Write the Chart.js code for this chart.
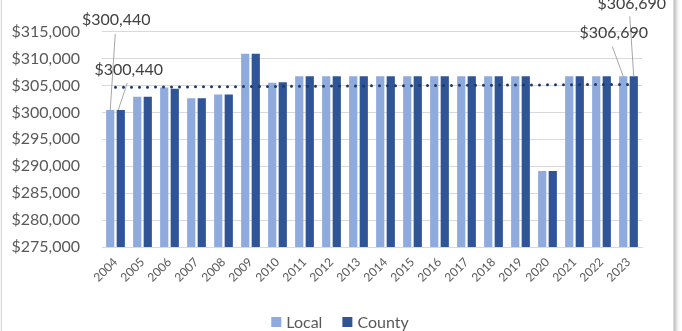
<!DOCTYPE html>
<html>
<head>
<meta charset="utf-8">
<script src="https://cdn.jsdelivr.net/npm/chart.js@4"></script>
<style>
  html, body { margin: 0; padding: 0; background: #fff; overflow: hidden; }
  #wrap { position: relative; width: 682px; height: 331px; }
  #frame { position: absolute; left: 1px; top: -5px; width: 671px; height: 345px;
           border: 1px solid #d9d9d9; box-shadow: 2px 0 4px rgba(0,0,0,0.3); pointer-events: none; }
  canvas { position: absolute; left: 0; top: 0; }
</style>
</head>
<body>
<div id="wrap">
  <div id="frame"></div>
  <canvas id="chart" width="682" height="331"></canvas>
</div>
<script>
// Valores
const years = ['2004','2005','2006','2007','2008','2009','2010','2011','2012','2013',
               '2014','2015','2016','2017','2018','2019','2020','2021','2022','2023'];
const localValues = [300440, 302900, 304600, 302600, 303300, 310900, 305500, 306690, 306690, 306690,
                     306690, 306690, 306690, 306690, 306690, 306690, 289100, 306690, 306690, 306690];
const countyValues = [300440, 302900, 304400, 302600, 303300, 310900, 305600, 306690, 306690, 306690,
                      306690, 306690, 306690, 306690, 306690, 306690, 289100, 306690, 306690, 306690];
// línea de tendencia (extremos leídos)
const trendValues = [304650, null, null, null, null, null, null, null, null, null,
                     null, null, null, null, null, null, null, null, null, 305200];

const fmt = v => '$' + v.toLocaleString('en-US');
const FONT = 'Lato';

// etiquetas con líneas guía para 2004 y 2023
const callouts = [
  { ds: 0, idx: 0,  tx: 6,    ty: -90, lx: 5,   ly: -76, ex: 0,    ey: 0 },
  { ds: 1, idx: 0,  tx: 8,    ty: -40, lx: 6.5, ly: -27, ex: -2.5, ey: 0 },
  { ds: 1, idx: 19, tx: -2,   ty: -73, lx: -4,  ly: -60, ex: 0,    ey: 0 },
  { ds: 0, idx: 19, tx: -9.5, ty: -44, lx: -11, ly: -30, ex: 0,    ey: 0 }
];

const calloutPlugin = {
  id: 'callouts',
  afterDatasetsDraw(chart) {
    const ctx = chart.ctx;
    ctx.save();
    callouts.forEach(c => {
      const el = chart.getDatasetMeta(c.ds).data[c.idx];
      const val = chart.data.datasets[c.ds].data[c.idx];
      ctx.strokeStyle = '#a6a6a6';
      ctx.lineWidth = 1;
      ctx.beginPath();
      ctx.moveTo(el.x + c.lx, el.y + c.ly);
      ctx.lineTo(el.x + c.ex, el.y + c.ey);
      ctx.stroke();
      ctx.fillStyle = '#404040';
      ctx.font = '16px ' + FONT;
      ctx.textAlign = 'center';
      ctx.textBaseline = 'middle';
      ctx.fillText(fmt(val), el.x + c.tx, el.y + c.ty);
    });
    ctx.restore();
  }
};

// leyenda dibujada a mano (solo las barras)
const legendPlugin = {
  id: 'bottomLegend',
  afterDraw(chart) {
    const ctx = chart.ctx;
    const items = chart.data.datasets.filter(d => d.type === 'bar');
    const box = 10, gapText = 5, gapItem = 20, cy = 322;
    ctx.save();
    ctx.font = '16px ' + FONT;
    const widths = items.map(d => box + gapText + ctx.measureText(d.label).width);
    const total = widths.reduce((a, b) => a + b, 0) + gapItem * (items.length - 1);
    let x = 340 - total / 2;
    items.forEach((d, i) => {
      ctx.fillStyle = d.backgroundColor;
      ctx.fillRect(x, cy - box / 2, box, box);
      ctx.fillStyle = '#595959';
      ctx.textAlign = 'left';
      ctx.textBaseline = 'middle';
      ctx.fillText(d.label, x + box + gapText, cy + 1);
      x += widths[i] + gapItem;
    });
    ctx.restore();
  }
};

new Chart(document.getElementById('chart'), {
  data: {
    labels: years,
    datasets: [
      { type: 'bar', label: 'Local', data: localValues, backgroundColor: '#8faadc',
        order: 1, categoryPercentage: 0.78, barPercentage: 0.78 },
      { type: 'bar', label: 'County', data: countyValues, backgroundColor: '#2f5597',
        order: 1, categoryPercentage: 0.78, barPercentage: 0.78 },
      { type: 'line', label: 'trend', data: trendValues, spanGaps: true, order: 0,
        borderColor: '#203864', borderWidth: 3, borderDash: [0, 8], borderCapStyle: 'round',
        pointRadius: 0, fill: false }
    ]
  },
  options: {
    responsive: false,
    devicePixelRatio: 1,
    animation: false,
    layout: { padding: { left: 0, right: 40, top: 29, bottom: 0 } },
    scales: {
      x: {
        grid: { display: false, drawTicks: false },
        border: { color: '#d9d9d9', width: 1 },
        ticks: { color: '#595959', font: { family: FONT, size: 12 }, minRotation: 45, maxRotation: 45, padding: 8 },
        afterFit(scale) { scale.height = 84; }
      },
      y: {
        min: 275000, max: 315000,
        grid: { color: '#d9d9d9', drawTicks: false },
        border: { display: false },
        ticks: { stepSize: 5000, color: '#595959', font: { family: FONT, size: 16 }, padding: 22,
                 callback: v => fmt(v) },
        afterFit(scale) { scale.width = 102; }
      }
    },
    plugins: {
      legend: { display: false },
      tooltip: { enabled: false }
    }
  },
  plugins: [calloutPlugin, legendPlugin]
});
</script>
</body>
</html>
